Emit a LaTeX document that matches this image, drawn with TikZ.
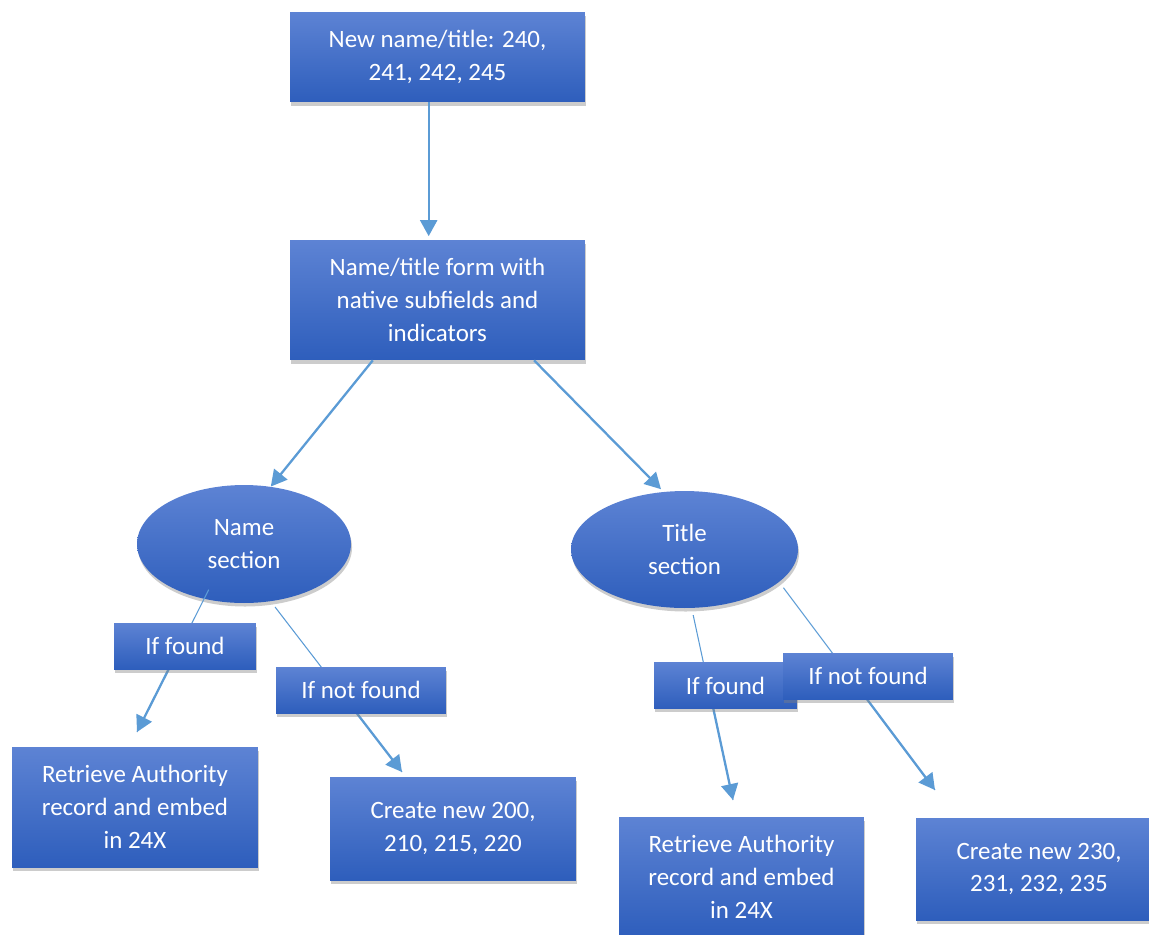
\documentclass[tikz,border=0pt]{standalone}
\usepackage{fontspec}
\setmainfont{Carlito}
\usetikzlibrary{positioning,arrows.meta,shapes.geometric,shadows}
\definecolor{boxtop}{RGB}{93,131,212}
\definecolor{boxbot}{RGB}{46,94,188}
\definecolor{linkc}{RGB}{91,155,213}

\begin{document}
\begin{tikzpicture}[x=0.02cm, y=-0.02cm,
  box/.style={top color=boxtop, bottom color=boxbot, text=white, align=center, font=\fontsize{14.2}{18.7}\selectfont, inner sep=0pt, drop shadow={shadow xshift=0.6pt, shadow yshift=-2pt, opacity=0.4}},
  oval/.style={box, ellipse, minimum width=4.28cm, minimum height=2.36cm},
  tag/.style={box, minimum height=0.92cm},
  arr/.style={-{Triangle[length=3.2mm, width=3.4mm]}, draw=linkc, line width=1.3pt},
  thinln/.style={draw=linkc, line width=0.6pt}]
  \useasboundingbox (0,0) rectangle (1149,934);

  \node[box, minimum width=5.9cm, minimum height=1.8cm] (newnt) at (437.5,57) {New name/title: 240,\\241, 242, 245};
  \node[box, minimum width=5.9cm, minimum height=2.4cm] (form) at (437.5,300) {Name/title form with\\native subfields and\\indicators};
  \node[oval] (nameS) at (244,544) {Name\\section};
  \node[oval, minimum width=4.54cm, minimum height=2.34cm] (titleS) at (684.5,549.5) {Title\\section};
  \node[box, minimum width=4.92cm, minimum height=2.4cm] (retL) at (135,807) {Retrieve Authority\\record and embed\\in 24X};
  \node[box, minimum width=4.92cm, minimum height=2.06cm] (crL) at (453,828.5) {Create new 200,\\210, 215, 220};
  \node[box, minimum width=4.9cm, minimum height=2.4cm] (retR) at (741.5,877) {Retrieve Authority\\record and embed\\in 24X};
  \node[box, minimum width=4.92cm, minimum height=2.04cm] (crR) at (1039,869) {Create new 230,\\231, 232, 235};

  % free ends of the branch arrows
  \coordinate (tipA) at (137,732);
  \coordinate (tipB) at (402,772);
  \coordinate (tipC) at (733,800);
  \coordinate (tipD) at (935,790);

  \draw[arr, shorten >=2pt] (newnt.259) -- (newnt.259 |- form.north);
  \draw[arr] (form.223) -- (nameS.65);
  \draw[arr, shorten >=2pt] (form.328) -- (titleS.110);

  % thin above the labels, thick below them
  \draw[thinln, shorten <=-6pt] (nameS.234) -- coordinate[pos=0.45] (midA) (tipA);
  \draw[arr] (midA) -- (tipA);
  \draw[thinln, shorten <=4pt] (nameS.295) -- coordinate[pos=0.55] (midB) (tipB);
  \draw[arr] (midB) -- (tipB);
  \draw[thinln, shorten <=4pt] (titleS.277) -- coordinate[pos=0.43] (midC) (tipC);
  \draw[arr] (midC) -- (tipC);
  \draw[thinln, shorten <=4pt] (titleS.341) -- coordinate[pos=0.49] (midD) (tipD);
  \draw[arr] (midD) -- (tipD);

  % branch labels sit on top of the arrows
  \node[tag, minimum width=2.84cm] (fndL) at (185,646) {If found};
  \node[tag, minimum width=3.4cm] (nfndL) at (361,690) {If not found};
  \node[tag, minimum width=2.86cm] (fndR) at (725.5,685.5) {If found};
  \node[tag, minimum width=3.4cm] (nfndR) at (868,676) {If not found};
\end{tikzpicture}
\end{document}
